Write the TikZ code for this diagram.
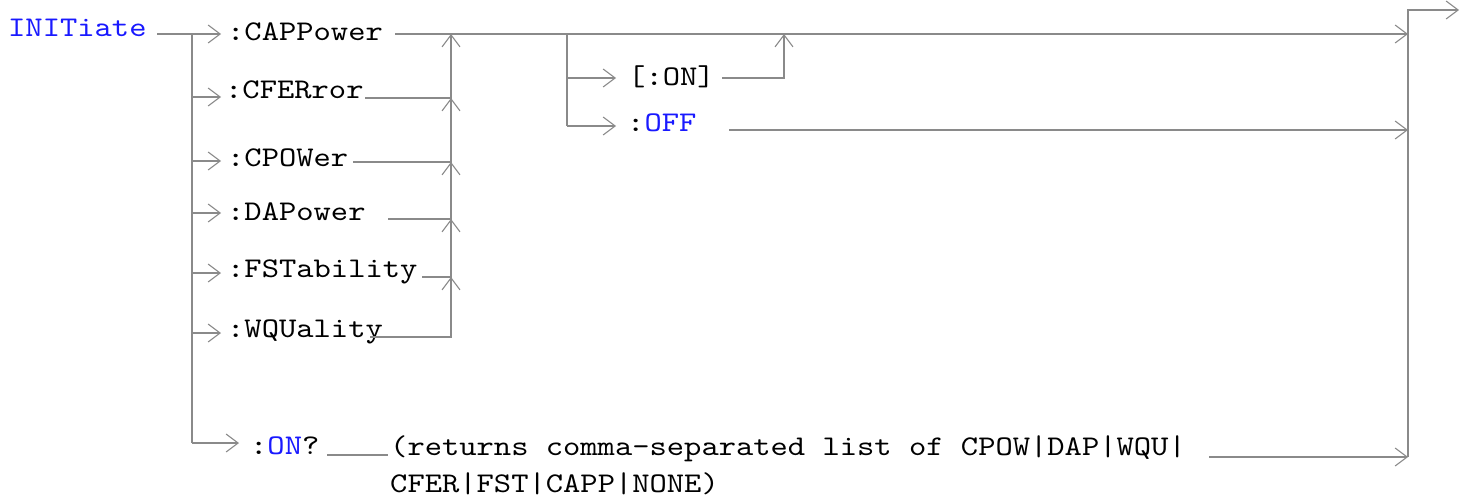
\documentclass[tikz,border=0pt]{standalone}
\usepackage{fontspec}
\setmonofont{lmmono10-regular.otf}[FakeStretch=1.156]
\usetikzlibrary{arrows.meta}
\definecolor{cmdblue}{RGB}{25,25,255}
\definecolor{railgray}{RGB}{138,138,138}
\newcommand\mykwfont{\fontsize{28.5}{34}\selectfont\ttfamily}
\tikzset{
  rail/.style={draw=railgray, line width=1.9pt},
  arr/.style={rail, -{Straight Barb[length=12pt,width=18pt,line width=1.1pt]}},
  kw/.style={anchor=base west, inner sep=0pt, font=\mykwfont, text=black},
  kwb/.style={kw, text=cmdblue},
}
\begin{document}
\begin{tikzpicture}[x=1pt,y=-1pt]
\useasboundingbox (0,0) rectangle (1468,503);

% texts
\node[kwb] (init) at (8,37) {INITiate};
\node[kw] (capp) at (227,41) {:CAPPower};
\node[kw] (cfer) at (225,99) {:CFERror};
\node[kw] (cpow) at (227,166) {:CPOWer};
\node[kw] (dapw) at (227,220) {:DAPower};
\node[kw] (fstb) at (227,277) {:FSTability};
\node[kw] (wqua) at (227,337) {:WQUality};
\node[kw] (onq) at (250,454) {:\textcolor{cmdblue}{ON}?};
\node[kw] (ret1) at (390,455) {(returns comma-separated list of CPOW|DAP|WQU|};
\node[kw] (ret2) at (390,492) {CFER|FST|CAPP|NONE)};
\node[kw] (onopt) at (628,85) {[:ON]};
\node[kw] (off) at (627,131) {:\textcolor{cmdblue}{OFF}};

% coordinates
\coordinate (s0) at (157,34);
\coordinate (j1) at (192,34);
\coordinate (j2) at (192,97);
\coordinate (j3) at (192,161);
\coordinate (j4) at (192,213);
\coordinate (j5) at (192,273);
\coordinate (j6) at (192,333);
\coordinate (j7) at (192,443);
\coordinate (t1) at (221,34);
\coordinate (t2) at (221,97);
\coordinate (t3) at (221,161);
\coordinate (t4) at (221,213);
\coordinate (t5) at (221,273);
\coordinate (t6) at (221,333);
\coordinate (t7) at (239,443);

\coordinate (e1) at (395,34);
\coordinate (e2) at (365,98);
\coordinate (e3) at (353,162);
\coordinate (e4) at (388,219);
\coordinate (e5) at (422,277);
\coordinate (e6) at (370,337);
\coordinate (m1) at (451,34);
\coordinate (m2) at (451,98);
\coordinate (m3) at (451,162);
\coordinate (m4) at (451,219);
\coordinate (m5) at (451,277);
\coordinate (m6) at (451,337);

\coordinate (b0) at (567,34);
\coordinate (b1) at (567,78);
\coordinate (b2) at (567,126);
\coordinate (tb1) at (616,78);
\coordinate (tb2) at (616,126);
\coordinate (eon) at (722,78);
\coordinate (con) at (784,78);
\coordinate (con0) at (784,34);
\coordinate (eoff) at (729,130);

\coordinate (r1) at (1408,34);
\coordinate (r2) at (1408,130);
\coordinate (r3) at (1408,457);
\coordinate (rtop) at (1408,10);
\coordinate (out) at (1459,10);

\coordinate (q1) at (327,455);
\coordinate (q2) at (388,455);
\coordinate (q3) at (1209,457);

% left branching
\draw[arr] (s0) -- (t1);
\draw[rail] (j1) -- (j7);
\draw[arr] (j2) -- (t2);
\draw[arr] (j3) -- (t3);
\draw[arr] (j4) -- (t4);
\draw[arr] (j5) -- (t5);
\draw[arr] (j6) -- (t6);
\draw[arr] (j7) -- (t7);

% collectors
\draw[arr] (e1) -- (r1);
\draw[arr] (e2) -- (m2) -- (m1);
\draw[arr] (e3) -- (m3) -- (m2);
\draw[arr] (e4) -- (m4) -- (m3);
\draw[arr] (e5) -- (m5) -- (m4);
\draw[arr] (e6) -- (m6) -- (m5);

% ON / OFF
\draw[rail] (b0) -- (b2);
\draw[arr] (b1) -- (tb1);
\draw[arr] (b2) -- (tb2);
\draw[arr] (eon) -- (con) -- (con0);
\draw[arr] (eoff) -- (r2);

% ON? query
\draw[rail] (q1) -- (q2);
\draw[arr] (q3) -- (r3);

% exit
\draw[arr] (r3) -- (rtop) -- (out);
\end{tikzpicture}
\end{document}
